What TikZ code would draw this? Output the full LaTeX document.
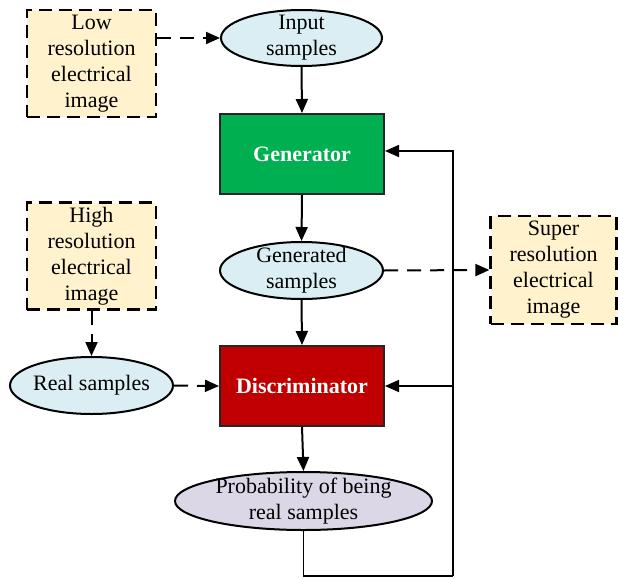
\documentclass[tikz,border=0pt]{standalone}
\usepackage{fontspec}
\setmainfont{Liberation Serif}
\usetikzlibrary{arrows.meta,shapes.geometric}
\definecolor{notefill}{HTML}{FFF2CC}
\definecolor{samplefill}{HTML}{DAEEF3}
\definecolor{probfill}{HTML}{DCD7E6}
\definecolor{gengreen}{HTML}{00B050}
\definecolor{discred}{HTML}{C00000}
\begin{document}
\begin{tikzpicture}[x=1pt,y=-1pt,
  every node/.style={font=\fontsize{22}{26}\selectfont},
  note/.style={draw, line width=2.2pt, dash pattern=on 13pt off 7pt, fill=notefill,
    minimum width=129pt, minimum height=107pt, inner sep=0pt, align=center},
  oval/.style={ellipse, draw, line width=2pt, fill=samplefill, inner sep=0pt},
  ovaltext/.style={align=center, inner sep=0pt},
  block/.style={draw=black!85, line width=2pt, minimum width=164pt, minimum height=80pt,
    text=white, font=\fontsize{22}{26}\selectfont\bfseries},
  tip/.style={-{Triangle[length=14pt,width=12pt]}},
  flow/.style={line width=2pt, tip},
  dflow/.style={flow, dash pattern=on 14pt off 9pt},
  loopline/.style={line width=1.7pt}
]
\useasboundingbox (0,0) rectangle (618,578);

% source images
\node[note] (lowres) at (91.5,63.5) {Low\\resolution\\electrical\\image};
\node[note] (highres) at (91.5,256) {High\\resolution\\electrical\\image};
\node[note, minimum width=126pt, minimum height=108pt] (super) at (553.5,270) {Super\\resolution\\electrical\\image};

% sample ovals
\node[oval, minimum width=161pt, minimum height=56pt] (input) at (301.5,38) {};
\node[ovaltext] (inputtxt) at (input) {Input\\samples};
\node[oval, minimum width=163pt, minimum height=57pt] (generated) at (301.5,270.5) {};
\node[ovaltext] (generatedtxt) at (generated) {Generated\\samples};
\node[oval, minimum width=163pt, minimum height=57pt] (real) at (91.5,385.5) {};
\node[ovaltext] (realtxt) at (real) {Real samples};
\node[oval, fill=probfill, minimum width=257pt, minimum height=58pt] (prob) at (303.5,501) {};
\node[ovaltext] (probtxt) at (prob) {Probability of being\\real samples};

% networks
\node[block, fill=gengreen] (gen) at (302,154) {Generator};
\node[block, fill=discred] (disc) at (302,386) {Discriminator};

% main flow
\draw[dflow] (lowres.east |- input.west) -- (input.west);
\draw[flow] (input.south) -- (gen.north);
\draw[flow] (gen.south) -- (generated.north);
\draw[flow] (generated.south) -- (disc.north);
\draw[dflow] (generated.east) -- (super.west);
\draw[dflow] (highres.south) -- (real.north);
\draw[dflow] (real.east) -- (disc.west);
\draw[flow] (disc.south) -- (prob.north);

% feedback loop
\coordinate (fbcorner) at (453,576);
\draw[loopline] (prob.south) |- (fbcorner);
\draw[loopline, tip] (fbcorner) |- ([yshift=3pt]gen.east);
\draw[loopline, tip] (fbcorner) |- (disc.east);
\end{tikzpicture}
\end{document}
